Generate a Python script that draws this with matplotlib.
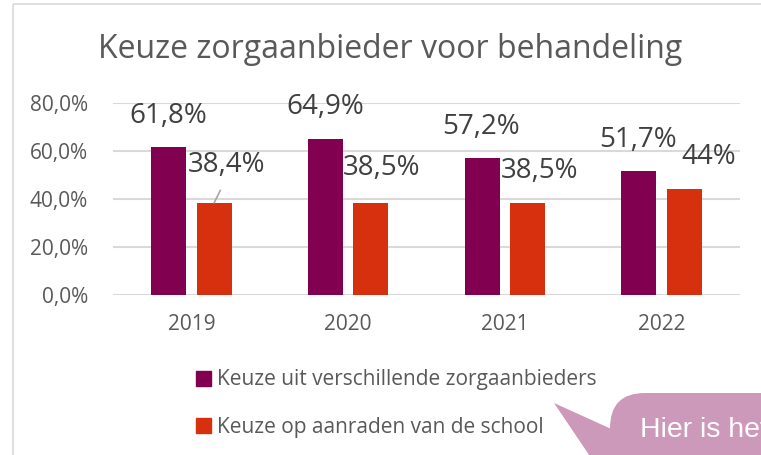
import matplotlib
matplotlib.use('Agg')
import matplotlib.pyplot as plt
import numpy as np
from matplotlib.patches import FancyBboxPatch, Polygon, Rectangle

# ---- data ----
years = ['2019', '2020', '2021', '2022']
uit_verschillende = [61.8, 64.9, 57.2, 51.7]
op_aanraden = [38.4, 38.5, 38.5, 44.0]
labels_uit = ['61,8%', '64,9%', '57,2%', '51,7%']
labels_aanraden = ['38,4%', '38,5%', '38,5%', '44%']
series_names = ['Keuze uit verschillende zorgaanbieders', 'Keuze op aanraden van de school']
yticks = [0, 20, 40, 60, 80]
ytick_labels = ['0,0%', '20,0%', '40,0%', '60,0%', '80,0%']
title = 'Keuze zorgaanbieder voor behandeling'
bubble_text = 'Hier is het'

# ---- style ----
purple = '#820050'
orange = '#D6300F'
grid_col = '#D9D9D9'
txt_col = '#595959'
lbl_col = '#404040'
# label offsets (pixels) relative to bar top centre
off_uit = [(0, 31), (0, 32), (-1, 31), (-1, 31)]
off_aanraden = [(12, 38), (11, 35), (12, 32), (24, 32)]

plt.rcParams['font.family'] = ['Open Sans', 'DejaVu Sans']

W, H = 761, 455
fig = plt.figure(figsize=(W / 100, H / 100), dpi=100)

# overlay in pixel coordinates for decorations
ov = fig.add_axes([0, 0, 1, 1], zorder=0)
ov.set_xlim(0, W)
ov.set_ylim(H, 0)
ov.axis('off')
ov.add_patch(Rectangle((13, 4), 900, 600, fill=False, edgecolor=grid_col, lw=1.2))
bub = '#CD99BA'
ov.add_patch(FancyBboxPatch((610, 393), 300, 150,
                            boxstyle='round,pad=0,rounding_size=35',
                            facecolor=bub, edgecolor='none'))
ov.add_patch(Polygon([(554, 403), (640, 442), (640, 480), (606, 480)],
                     closed=True, facecolor=bub, edgecolor='none'))
ov.text(640, 437, bubble_text, color='white', fontsize=20.5,
        family=['Liberation Sans', 'DejaVu Sans'], va='baseline', ha='left')

# main axes
ax = fig.add_axes([113 / W, (H - 295) / H, (740 - 113) / W, (295 - 103) / H], zorder=1)
ax.set_facecolor('none')
x = np.arange(len(years))
width = 0.223
off = 0.145
ax.bar(x - off, uit_verschillende, width, color=purple, label=series_names[0], zorder=3)
ax.bar(x + off, op_aanraden, width, color=orange, label=series_names[1], zorder=3)

ax.set_xlim(-0.5, len(years) - 0.5)
ax.set_ylim(0, 80)
ax.set_yticks(yticks, ytick_labels)
ax.set_xticks(x, years)
ax.yaxis.grid(True, color=grid_col, lw=1.5, zorder=0)
ax.set_axisbelow(True)
for s in ax.spines.values():
    s.set_visible(False)
ax.tick_params(axis='y', length=0, labelsize=15, labelcolor=txt_col, pad=18)
ax.tick_params(axis='x', length=0, labelsize=15, labelcolor=txt_col, pad=14)

for xi, v, lbl, (dx, dy) in zip(x - off, uit_verschillende, labels_uit, off_uit):
    ax.annotate(lbl, xy=(xi, v), xytext=(dx, dy), textcoords='offset pixels',
                ha='center', va='center', fontsize=20, color=lbl_col)
for i, (xi, v, lbl, (dx, dy)) in enumerate(zip(x + off, op_aanraden, labels_aanraden, off_aanraden)):
    kw = {}
    if i == 0:
        kw['arrowprops'] = dict(arrowstyle='-', color='#A6A6A6', lw=1.2,
                                relpos=(0.5, 0.0), shrinkA=7, shrinkB=0)
    ax.annotate(lbl, xy=(xi, v), xytext=(dx, dy), textcoords='offset pixels',
                ha='center', va='center', fontsize=20, color=lbl_col, **kw)

fig.text(390 / W, 1 - 50 / H, title, ha='center', va='center', fontsize=23, color=txt_col)

handles = [Rectangle((0, 0), 1, 1, color=purple), Rectangle((0, 0), 1, 1, color=orange)]
fig.legend(handles, series_names, loc='center left', bbox_to_anchor=(196 / W, (H - 403.5) / H),
           frameon=False, fontsize=15, labelcolor=txt_col, handlelength=0.72, handleheight=0.72,
           handletextpad=0.3, labelspacing=1.26, borderpad=0, borderaxespad=0)

fig.savefig('out.png', dpi=100)
